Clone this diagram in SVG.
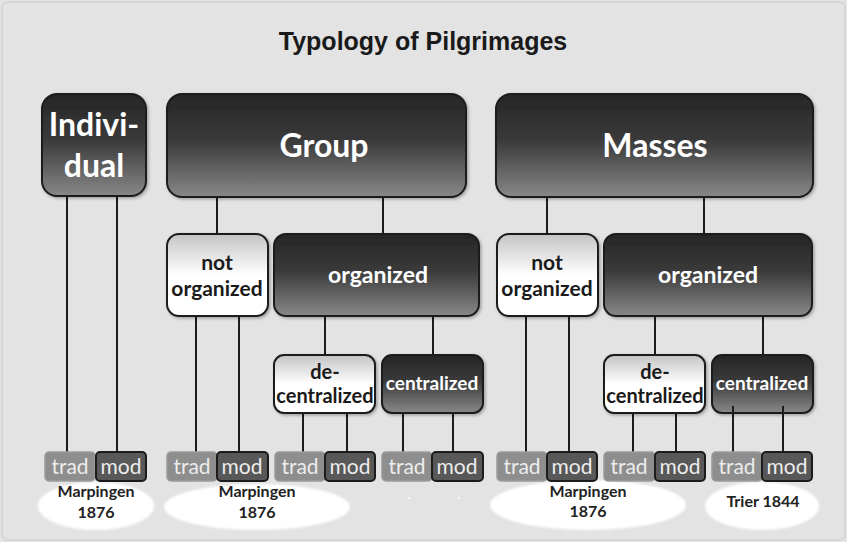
<svg xmlns="http://www.w3.org/2000/svg" width="847" height="542" viewBox="0 0 847 542">
<defs>
<linearGradient id="gDark" x1="0" y1="0" x2="0" y2="1">
<stop offset="0" stop-color="#262626"/>
<stop offset="0.45" stop-color="#3a3a3a"/>
<stop offset="1" stop-color="#888888"/>
</linearGradient>
<linearGradient id="gLight" x1="0" y1="0" x2="0" y2="1">
<stop offset="0" stop-color="#c4c4c4"/>
<stop offset="0.5" stop-color="#ffffff"/>
<stop offset="1" stop-color="#ffffff"/>
</linearGradient>
<filter id="sh" x="-10%" y="-10%" width="125%" height="130%">
<feDropShadow dx="1.5" dy="1.5" stdDeviation="1.5" flood-color="#000" flood-opacity="0.3"/>
</filter>
<filter id="soft" x="-10%" y="-10%" width="120%" height="120%">
<feGaussianBlur stdDeviation="0.8"/>
</filter>
</defs>
<style>
.dark{fill:url(#gDark);stroke:#1c1c1c;stroke-width:2;filter:url(#sh)}
.light{fill:url(#gLight);stroke:#1c1c1c;stroke-width:2;filter:url(#sh)}
.trad{fill:#8e8e8e;stroke:#9c9c9c;stroke-width:1.5}
.mod{fill:#585858;stroke:#1c1c1c;stroke-width:2}
.wt{font-family:Lato,"Open Sans",sans-serif;font-weight:bold;fill:#ffffff;text-anchor:middle}
.bt{font-family:Lato,"Open Sans",sans-serif;font-weight:bold;fill:#1a1a1a;text-anchor:middle}
.tm{font-family:Lato,"Open Sans",sans-serif;font-size:21px;fill:#ececec;text-anchor:middle}
.lab{font-family:Lato,"Open Sans",sans-serif;font-weight:bold;font-size:16px;fill:#222;text-anchor:middle}
.ell{fill:#ffffff;filter:url(#soft)}
.con line{stroke:#1c1c1c;stroke-width:2}
</style>
<rect x="0" y="0" width="847" height="542" fill="#e3e3e3"/>
<rect x="2" y="2" width="843" height="538" rx="6" fill="none" stroke="#d2d2d2" stroke-width="1.5"/>
<text x="423" y="50" font-family="Liberation Sans,Arial,sans-serif" font-weight="bold" font-size="25" fill="#1a1a1a" text-anchor="middle">Typology of Pilgrimages</text>

<g id="labels-ellipses">
<ellipse class="ell" cx="96" cy="506" rx="58" ry="24"/>
<ellipse class="ell" cx="257" cy="507" rx="93" ry="23"/>
<ellipse class="ell" cx="588" cy="505" rx="98" ry="25"/>
<ellipse class="ell" cx="762" cy="506" rx="57" ry="24"/>
<circle cx="409" cy="498" r="1" fill="#fff"/>
<circle cx="459" cy="498" r="1" fill="#fff"/>
</g>

<g id="connectors" class="con">
<line x1="67" y1="196" x2="67" y2="452"/>
<line x1="117" y1="196" x2="117" y2="452"/>
<line x1="217" y1="197" x2="217" y2="234"/>
<line x1="383" y1="197" x2="383" y2="234"/>
<line x1="196" y1="316" x2="196" y2="452"/>
<line x1="239" y1="316" x2="239" y2="452"/>
<line x1="325" y1="316" x2="325" y2="355"/>
<line x1="433" y1="316" x2="433" y2="355"/>
<line x1="303" y1="413" x2="303" y2="452"/>
<line x1="347" y1="413" x2="347" y2="452"/>
<line x1="403" y1="413" x2="403" y2="452"/>
<line x1="453" y1="413" x2="453" y2="452"/>
<line x1="547" y1="197" x2="547" y2="234"/>
<line x1="704" y1="197" x2="704" y2="234"/>
<line x1="526" y1="316" x2="526" y2="452"/>
<line x1="569" y1="316" x2="569" y2="452"/>
<line x1="655" y1="316" x2="655" y2="355"/>
<line x1="763" y1="316" x2="763" y2="355"/>
<line x1="633" y1="413" x2="633" y2="452"/>
<line x1="676" y1="413" x2="676" y2="452"/>
</g>

<g id="individual">
<rect class="dark" x="42" y="94" width="104" height="102" rx="15"/>
<text class="wt" x="94" y="136" font-size="32">Indivi-</text>
<text class="wt" x="94" y="177" font-size="32">dual</text>
</g>
<g id="group">
<rect class="dark" x="167" y="94" width="299" height="103" rx="15"/>
<text class="wt" x="324" y="157" font-size="32">Group</text>
</g>
<g id="masses">
<rect class="dark" x="496" y="94" width="317" height="103" rx="15"/>
<text class="wt" x="655" y="157" font-size="32">Masses</text>
</g>

<g id="group-not-organized">
<rect class="light" x="167" y="234" width="101" height="82" rx="12"/>
<text class="bt" x="217" y="270" font-size="21">not</text>
<text class="bt" x="217" y="296" font-size="21">organized</text>
</g>
<g id="group-organized">
<rect class="dark" x="274" y="234" width="205" height="82" rx="12"/>
<text class="wt" x="378" y="283" font-size="23">organized</text>
</g>
<g id="group-decentralized">
<rect class="light" x="274" y="355" width="101" height="58" rx="10"/>
<text class="bt" x="325" y="379" font-size="20">de-</text>
<text class="bt" x="325" y="403" font-size="20">centralized</text>
</g>
<g id="group-centralized">
<rect class="dark" x="382" y="355" width="101" height="58" rx="10"/>
<text class="wt" x="432" y="390" font-size="19">centralized</text>
</g>

<g id="masses-not-organized">
<rect class="light" x="497" y="234" width="101" height="82" rx="12"/>
<text class="bt" x="547" y="270" font-size="21">not</text>
<text class="bt" x="547" y="296" font-size="21">organized</text>
</g>
<g id="masses-organized">
<rect class="dark" x="604" y="234" width="208" height="82" rx="12"/>
<text class="wt" x="708" y="283" font-size="23">organized</text>
</g>
<g id="masses-decentralized">
<rect class="light" x="604" y="355" width="101" height="58" rx="10"/>
<text class="bt" x="655" y="379" font-size="20">de-</text>
<text class="bt" x="655" y="403" font-size="20">centralized</text>
</g>
<g id="masses-centralized">
<rect class="dark" x="712" y="355" width="101" height="58" rx="10"/>
<text class="wt" x="762" y="390" font-size="19">centralized</text>
</g>
<g id="masses-centralized-links" class="con">
<line x1="733" y1="406" x2="733" y2="452"/>
<line x1="783" y1="406" x2="783" y2="452"/>
</g>

<g id="tradmod-1">
<rect class="trad" x="45" y="452" width="50" height="29" rx="4"/>
<text class="tm" x="70" y="474">trad</text>
<rect class="mod" x="96" y="452" width="50" height="29" rx="4"/>
<text class="tm" x="121" y="474">mod</text>
</g>
<g id="tradmod-2">
<rect class="trad" x="167" y="452" width="50" height="29" rx="4"/>
<text class="tm" x="192" y="474">trad</text>
<rect class="mod" x="217" y="452" width="51" height="29" rx="4"/>
<text class="tm" x="242" y="474">mod</text>
</g>
<g id="tradmod-3">
<rect class="trad" x="275" y="452" width="50" height="29" rx="4"/>
<text class="tm" x="300" y="474">trad</text>
<rect class="mod" x="325" y="452" width="50" height="29" rx="4"/>
<text class="tm" x="350" y="474">mod</text>
</g>
<g id="tradmod-4">
<rect class="trad" x="382" y="452" width="50" height="29" rx="4"/>
<text class="tm" x="407" y="474">trad</text>
<rect class="mod" x="432" y="452" width="51" height="29" rx="4"/>
<text class="tm" x="457" y="474">mod</text>
</g>
<g id="tradmod-5">
<rect class="trad" x="497" y="452" width="50" height="29" rx="4"/>
<text class="tm" x="522" y="474">trad</text>
<rect class="mod" x="547" y="452" width="50" height="29" rx="4"/>
<text class="tm" x="572" y="474">mod</text>
</g>
<g id="tradmod-6">
<rect class="trad" x="604" y="452" width="51" height="29" rx="4"/>
<text class="tm" x="629" y="474">trad</text>
<rect class="mod" x="655" y="452" width="50" height="29" rx="4"/>
<text class="tm" x="680" y="474">mod</text>
</g>
<g id="tradmod-7">
<rect class="trad" x="712" y="452" width="50" height="29" rx="4"/>
<text class="tm" x="737" y="474">trad</text>
<rect class="mod" x="762" y="452" width="50" height="29" rx="4"/>
<text class="tm" x="787" y="474">mod</text>
</g>

<g id="label-texts">
<text class="lab" x="96" y="497">Marpingen</text>
<text class="lab" x="96" y="518">1876</text>
<text class="lab" x="257" y="497">Marpingen</text>
<text class="lab" x="257" y="518">1876</text>
<text class="lab" x="588" y="497">Marpingen</text>
<text class="lab" x="588" y="517">1876</text>
<text class="lab" x="763" y="507">Trier 1844</text>
</g>
</svg>
